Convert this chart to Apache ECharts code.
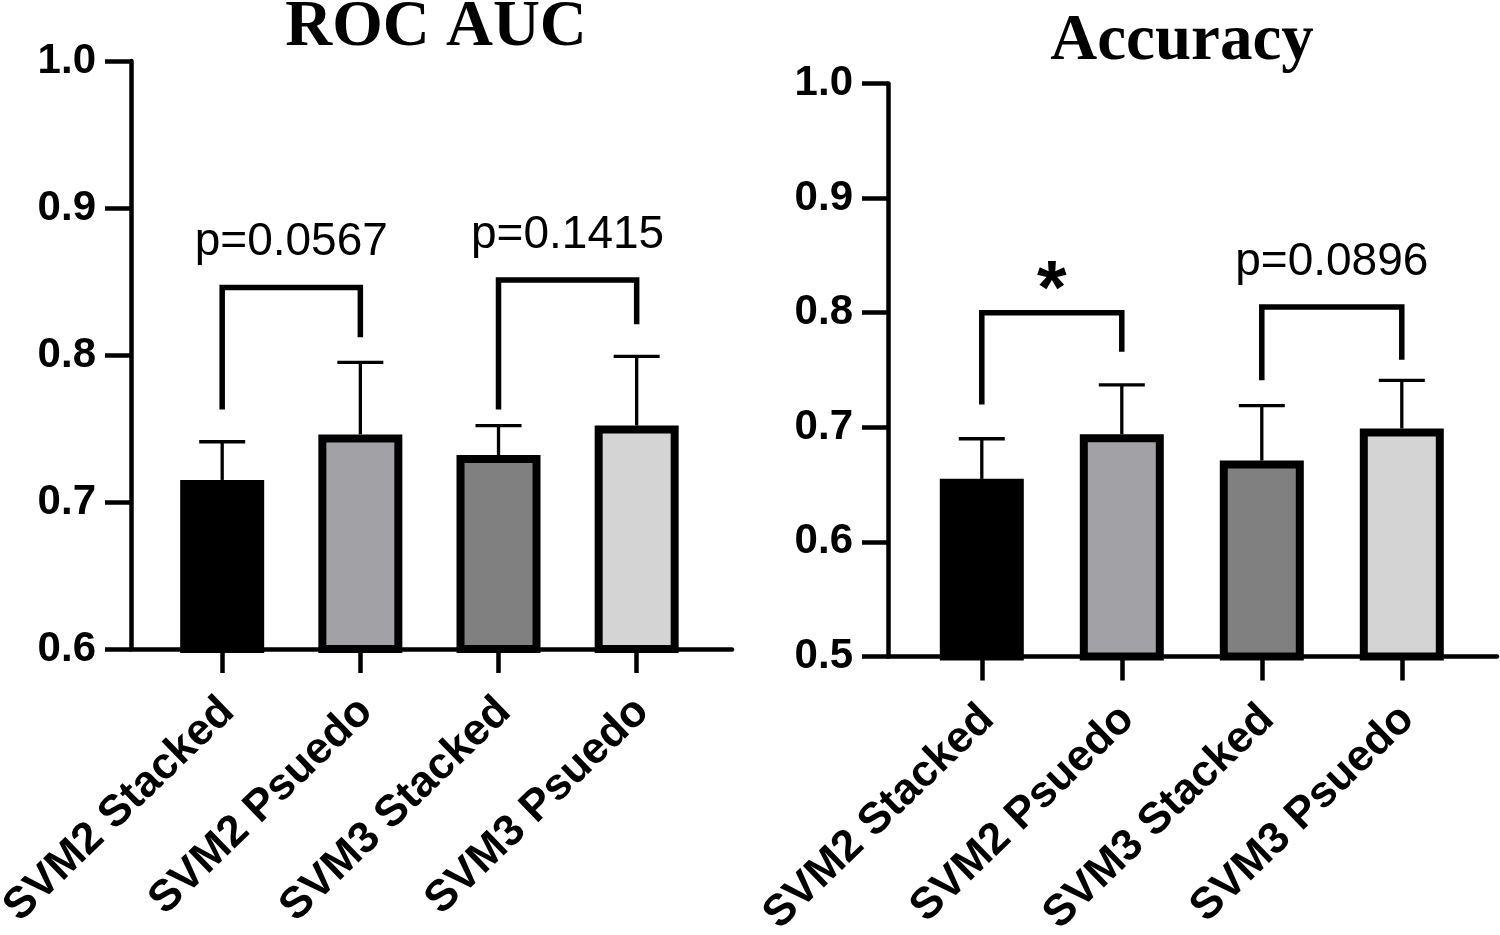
<!DOCTYPE html>
<html><head><meta charset="utf-8">
<script src="https://cdn.jsdelivr.net/npm/echarts@6/dist/echarts.min.js"></script>
<style>html,body{margin:0;padding:0;background:#fff}#c{width:1500px;height:935px}</style>
</head><body><div id="c"></div>
<script>
// ---- data ----
const categories = ['SVM2 Stacked', 'SVM2 Psuedo', 'SVM3 Stacked', 'SVM3 Psuedo'];
const catPos = [0, 1, 2, 3];
const barColors = ['#000000', '#a2a1a6', '#808080', '#d4d4d4'];
const rocMean = [0.715, 0.746, 0.732, 0.752];
const rocUpper = [0.741, 0.795, 0.752, 0.799];
const accMean = [0.655, 0.694, 0.671, 0.699];
const accUpper = [0.690, 0.737, 0.719, 0.741];
const rocTicks = [0.6, 0.7, 0.8, 0.9, 1.0];
const accTicks = [0.5, 0.6, 0.7, 0.8, 0.9, 1.0];
// brackets: [fromCat, toCat, top, leftLegEnd, rightLegEnd]
const rocBrackets = [[0, 1, 0.846, 0.763, 0.812], [2, 3, 0.851, 0.763, 0.821]];
const rocBracketText = ['p=0.0567', 'p=0.1415'];
const accBrackets = [[0, 1, 0.800, 0.720, 0.766], [2, 3, 0.805, 0.741, 0.759]];
const accBracketText = ['*', 'p=0.0896'];
const titles = ['ROC AUC', 'Accuracy'];

// ---- chart ----
const SANS = '"Liberation Sans", Arial, sans-serif';
const SERIF = '"Liberation Serif", "Times New Roman", serif';
const AXW = 4.5;
const LABEL_SHIFT = 0.04; // small rightward nudge of rotated category labels (axis units)

function xAxisCfg(gi, min, max) {
  return {
    type: 'value', gridIndex: gi, min: min, max: max,
    splitLine: { show: false },
    axisLine: { show: true, onZero: false, lineStyle: { color: '#000', width: AXW } },
    axisTick: { show: true, length: 24, customValues: catPos, lineStyle: { color: '#000', width: AXW } },
    axisLabel: {
      customValues: catPos.map(p => p + LABEL_SHIFT), rotate: 44, margin: 56, color: '#000',
      fontFamily: SANS, fontWeight: 'bold', fontSize: 44,
      formatter: v => categories[Math.round(v)]
    }
  };
}
function yAxisCfg(gi, ticks) {
  return {
    type: 'value', gridIndex: gi, min: ticks[0], max: ticks[ticks.length - 1], interval: 0.1,
    splitLine: { show: false },
    axisLine: { show: true, onZero: false, lineStyle: { color: '#000', width: AXW } },
    axisTick: { show: true, length: 26, lineStyle: { color: '#000', width: AXW } },
    axisLabel: {
      margin: 35, color: '#000', fontFamily: SANS, fontWeight: 'bold', fontSize: 42,
      formatter: v => v.toFixed(1)
    }
  };
}
function barSeries(gi, means) {
  return {
    type: 'bar', xAxisIndex: gi, yAxisIndex: gi, barWidth: 84,
    data: means.map((m, i) => ({
      value: [catPos[i], m],
      itemStyle: { color: barColors[i], borderColor: '#000', borderWidth: 8 }
    })),
    z: 2
  };
}
function errSeries(gi, means, uppers) {
  return {
    type: 'custom', xAxisIndex: gi, yAxisIndex: gi, z: 3, clip: false,
    encode: { x: 0, y: [1, 2] },
    data: means.map((m, i) => [catPos[i], m, uppers[i]]),
    renderItem: (params, api) => {
      const p0 = api.coord([api.value(0), api.value(1)]);
      const p1 = api.coord([api.value(0), api.value(2)]);
      const hw = 23;
      const st = { stroke: '#000', lineWidth: 3.3, fill: null };
      return { type: 'group', children: [
        { type: 'line', shape: { x1: p0[0], y1: p0[1], x2: p1[0], y2: p1[1] }, style: st },
        { type: 'line', shape: { x1: p1[0] - hw, y1: p1[1], x2: p1[0] + hw, y2: p1[1] }, style: st }
      ]};
    }
  };
}
function bracketSeries(gi, brackets, texts) {
  return {
    type: 'custom', xAxisIndex: gi, yAxisIndex: gi, z: 4, clip: false,
    encode: { x: [0, 1], y: [2, 3, 4] },
    data: brackets.map(b => b.slice()),
    renderItem: (params, api) => {
      const a = api.coord([api.value(0), api.value(3)]);
      const b = api.coord([api.value(0), api.value(2)]);
      const c = api.coord([api.value(1), api.value(2)]);
      const d = api.coord([api.value(1), api.value(4)]);
      const t = texts[params.dataIndex];
      const star = t === '*';
      return { type: 'group', children: [
        { type: 'polyline', shape: { points: [a, b, c, d] },
          style: { stroke: '#000', lineWidth: 5.5, fill: null, lineJoin: 'miter' } },
        { type: 'text', x: (b[0] + c[0]) / 2, y: b[1] - (star ? 21 : 45),
          style: { text: t, fill: '#000', align: 'center', verticalAlign: 'middle',
                   font: star ? 'bold 76px ' + SANS : '46px ' + SANS } }
      ]};
    }
  };
}

const chart = echarts.init(document.getElementById('c'), null, { renderer: 'canvas' });
chart.setOption({
  animation: false,
  backgroundColor: '#fff',
  grid: [
    { left: 131, top: 61, width: 601, height: 588, containLabel: false, outerBoundsMode: 'none' },
    { left: 888, top: 83.5, width: 609, height: 573, containLabel: false, outerBoundsMode: 'none' }
  ],
  xAxis: [xAxisCfg(0, -0.66, 3.69), xAxisCfg(1, -0.67, 3.68)],
  yAxis: [yAxisCfg(0, rocTicks), yAxisCfg(1, accTicks)],
  graphic: [
    { type: 'text', x: 436, y: 28, style: { text: titles[0], font: 'bold 65px ' + SERIF, fill: '#000', align: 'center', verticalAlign: 'middle' } },
    { type: 'text', x: 1182, y: 42, style: { text: titles[1], font: 'bold 65px ' + SERIF, fill: '#000', align: 'center', verticalAlign: 'middle' } }
  ],
  series: [
    barSeries(0, rocMean), errSeries(0, rocMean, rocUpper), bracketSeries(0, rocBrackets, rocBracketText),
    barSeries(1, accMean), errSeries(1, accMean, accUpper), bracketSeries(1, accBrackets, accBracketText)
  ]
});
</script></body></html>
